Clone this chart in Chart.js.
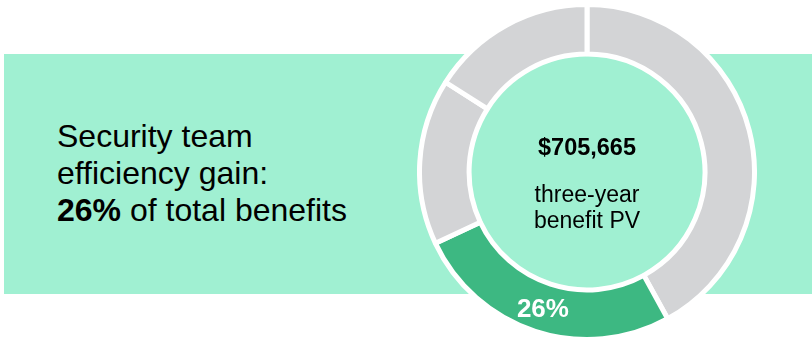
<!DOCTYPE html>
<html>
<head>
<meta charset="utf-8">
<script src="https://cdn.jsdelivr.net/npm/chart.js@4.4.1/dist/chart.umd.min.js"></script>
<style>
html, body {
     margin: 0;
     padding: 0;
     width: 812px;
     height: 341px;
     overflow: hidden;
     background: #ffffff;
     font-family: 'Liberation Sans', Arial, sans-serif;
}
.band {
     position: absolute;
     left: 4px;
     top: 54px;
     width: 808px;
     height: 240px;
     background: #a0f0d2;
}
.headline {
     position: absolute;
     left: 57px;
     top: 118px;
     font-size: 32px;
     line-height: 37px;
     color: #000;
     white-space: nowrap;
}
.wrap {
     position: absolute;
     left: 417px;
     top: 2px;
     width: 340px;
     height: 340px;
}
</style>
</head>
<body>
<div class="band"></div>
<div class="headline">
     <div>Security team</div>
     <div>efficiency gain:</div>
     <div><b>26%</b> of total benefits</div>
</div>
<div class="wrap"><canvas id="benefitChart"></canvas></div>

<script>
// slices go clockwise from 12 o'clock
const sliceLabels = ['Other benefits', 'Security team efficiency gain', 'Other benefits', 'Other benefits']
const sliceValues = [42, 26, 16, 16]
const sliceColors = ['#d3d4d6', '#3db882', '#d3d4d6', '#d3d4d6']

// the slice that gets the percent label
const highlightIndex = 1

const centerValue = '$705,665'
const centerCaption = ['three-year', 'benefit PV']

const mint = '#a0f0d2'
const fontFamily = "'Liberation Sans', Arial, sans-serif"

// fills the hole with mint and writes the texts on top of the ring
const donutText = {
     id: 'donutText',
     beforeDatasetsDraw(chart) {
          const arc = chart.getDatasetMeta(0).data[0]
          const ctx = chart.ctx
          ctx.save()
          ctx.fillStyle = mint
          ctx.beginPath()
          ctx.arc(arc.x, arc.y, arc.innerRadius, 0, Math.PI * 2)
          ctx.fill()
          ctx.restore()
     },
     afterDatasetsDraw(chart) {
          const meta = chart.getDatasetMeta(0)
          const arc = meta.data[0]
          const ctx = chart.ctx
          ctx.save()
          ctx.textAlign = 'center'
          ctx.textBaseline = 'alphabetic'
          ctx.fillStyle = '#000'
          ctx.font = 'bold 23.5px ' + fontFamily
          ctx.fillText(centerValue, arc.x, arc.y - 17)
          ctx.font = '23px ' + fontFamily
          ctx.fillText(centerCaption[0], arc.x, arc.y + 30)
          ctx.fillText(centerCaption[1], arc.x, arc.y + 56)

          const total = sliceValues.reduce((a, b) => a + b, 0)
          const pos = meta.data[highlightIndex].tooltipPosition()
          ctx.fillStyle = '#ffffff'
          ctx.font = 'bold 26px ' + fontFamily
          ctx.textBaseline = 'middle'
          ctx.fillText(Math.round(sliceValues[highlightIndex] / total * 100) + '%', pos.x, pos.y + 2)
          ctx.restore()
     }
}

const benefitChart = new Chart(document.getElementById('benefitChart'), {
     type: 'doughnut',
     data: {
          labels: sliceLabels,
          datasets: [{
               data: sliceValues,
               backgroundColor: sliceColors,
               borderColor: '#ffffff',
               borderWidth: 5,
               hoverOffset: 0
          }]
     },
     options: {
          responsive: true,
          maintainAspectRatio: false,
          animation: false,
          events: [],
          cutout: '70.4%',
          layout: { padding: 0 },
          plugins: {
               legend: { display: false },
               tooltip: { enabled: false }
          }
     },
     plugins: [donutText]
})
</script>
</body>
</html>
